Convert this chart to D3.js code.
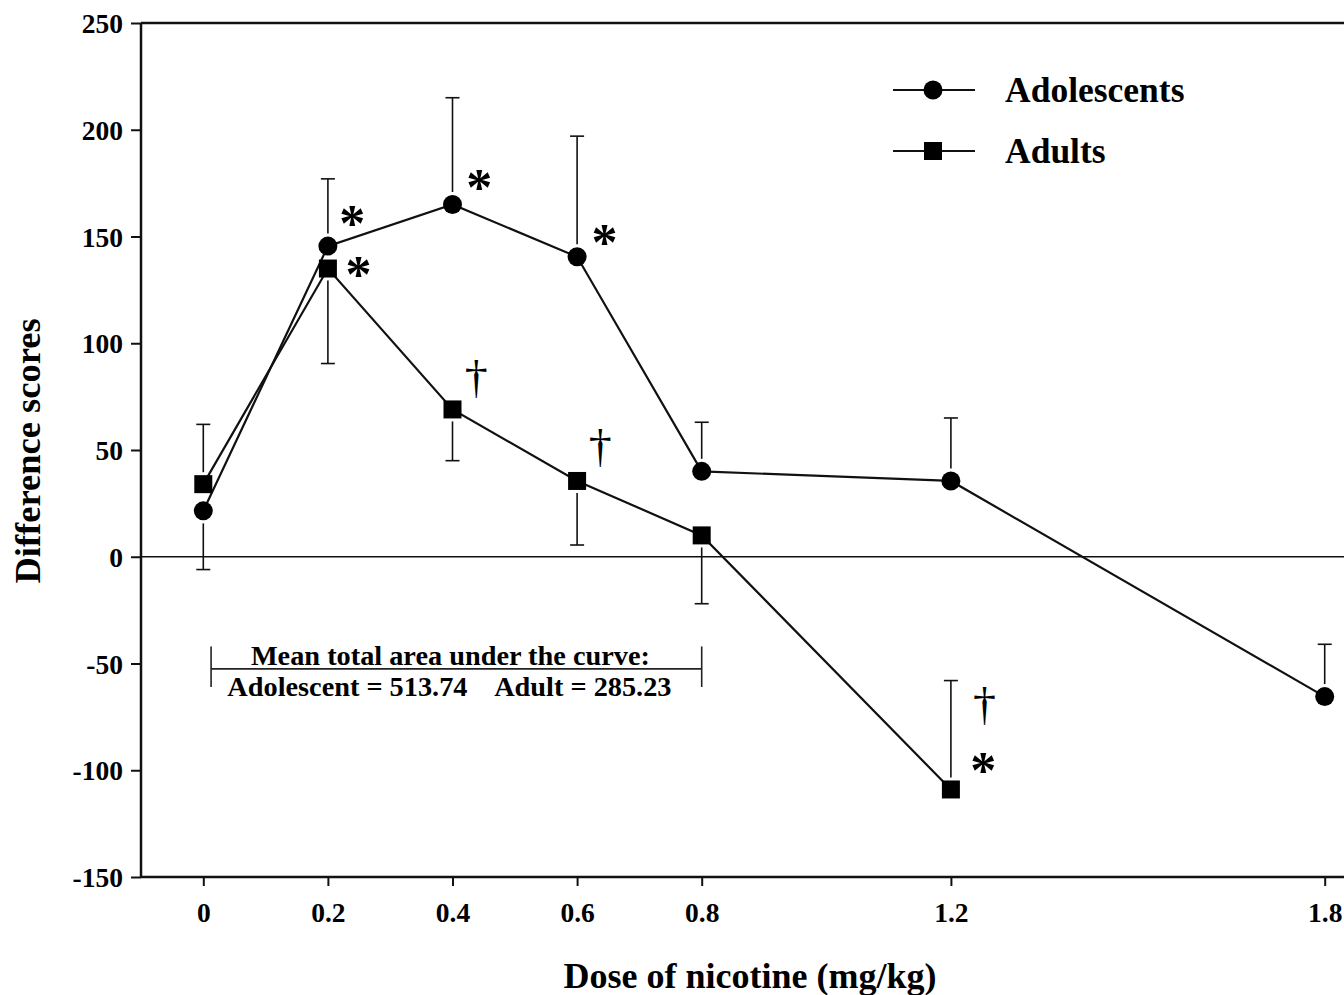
<!DOCTYPE html>
<html>
<head>
<meta charset="utf-8">
<script src="https://cdn.jsdelivr.net/npm/d3@7"></script>
<style>
  html, body { margin: 0; padding: 0; background: #fff; }
  svg text { font-family: "Liberation Serif", "Times New Roman", serif; fill: #000; }
</style>
</head>
<body>
<svg id="chart" width="1344" height="995"></svg>
<script>
// values
const doses = [0, 0.2, 0.4, 0.6, 0.8, 1.2, 1.8];
const adolescentMeans = [21.5, 145.5, 165, 140.5, 40, 35.5, -65.5];
const adolescentBarEnds = [-6, 177, 215, 197, 63, 65, -41];

const adultDoses = [0, 0.2, 0.4, 0.6, 0.8, 1.2];
const adultMeans = [34, 135, 69, 35.5, 10, -109];
const adultBarEnds = [62, 90.5, 45, 5.5, -22, -58];

const xTicks = [0, 0.2, 0.4, 0.6, 0.8, 1.2, 1.8];
const yTicks = [-150, -100, -50, 0, 50, 100, 150, 200, 250];

// significance marks, placed in data units
const marks = [
  {dose: 0.239, value: 160, sym: "*"},
  {dose: 0.249, value: 136, sym: "*"},
  {dose: 0.443, value: 177, sym: "*"},
  {dose: 0.644, value: 151, sym: "*"},
  {dose: 1.252, value: -96, sym: "*"},
  {dose: 0.438, value: 83, sym: "\u2020"},
  {dose: 0.637, value: 51, sym: "\u2020"},
  {dose: 1.254, value: -70, sym: "\u2020"}
];

// area-under-curve bracket
const bracketDoses = [0.0125, 0.8];
const bracketValues = [-42, -52.5, -61];
const aucLabels = ["Mean total area under the curve:", "Adolescent = 513.74    Adult = 285.23"];

const series = ["Adolescents", "Adults"];

const plotLeft = 141, plotTop = 23, plotBottom = 877;
const svg = d3.select("#chart");

const x = d3.scaleLinear().domain([-0.1, 1.9]).range([plotLeft, plotLeft + 2.0 * 623]);
const y = d3.scaleLinear().domain([-150, 250]).range([plotBottom, plotTop]);

svg.append("rect").attr("width", 1344).attr("height", 995).attr("fill", "#fff");

// frame top edge
svg.append("line")
  .attr("x1", plotLeft).attr("x2", 1400)
  .attr("y1", y(250)).attr("y2", y(250))
  .attr("stroke", "#111").attr("stroke-width", 2.5);

// zero line
svg.append("line")
  .attr("x1", plotLeft).attr("x2", 1400)
  .attr("y1", y(0)).attr("y2", y(0))
  .attr("stroke", "#111").attr("stroke-width", 1.6);

// axes
const yAxis = svg.append("g")
  .attr("transform", "translate(" + plotLeft + ",0)")
  .call(d3.axisLeft(y).tickValues(yTicks).tickSize(10).tickPadding(8).tickFormat(d => String(d)));
const xAxis = svg.append("g")
  .attr("transform", "translate(0," + plotBottom + ")")
  .call(d3.axisBottom(x).tickValues(xTicks).tickSize(9).tickPadding(10).tickFormat(d => String(d)));

[yAxis, xAxis].forEach(g => {
  g.select(".domain").attr("stroke", "#111").attr("stroke-width", 2.5);
  g.selectAll(".tick line").attr("stroke", "#111").attr("stroke-width", 2);
  g.selectAll(".tick text")
    .style("font-family", '"Liberation Serif", serif')
    .style("font-size", "27.5px").style("font-weight", "bold").attr("fill", "#000");
});
yAxis.select(".domain").attr("d", "M0," + y(-150) + "V" + y(250));
xAxis.select(".domain").attr("d", "M" + plotLeft + ",0H1400");
xAxis.selectAll(".tick text").attr("dy", "0.95em");
yAxis.selectAll(".tick text").attr("dy", "0.35em");

// axis titles
svg.append("text")
  .attr("x", 750).attr("y", 988)
  .attr("text-anchor", "middle")
  .style("font-size", "36px").style("font-weight", "bold")
  .text("Dose of nicotine (mg/kg)");

svg.append("text")
  .attr("transform", "translate(40,451) rotate(-90)")
  .attr("text-anchor", "middle")
  .style("font-size", "36.5px").style("font-weight", "bold")
  .text("Difference scores");

// build point lists
const adolescentPts = doses.map((d, i) => ({dose: d, value: adolescentMeans[i], end: adolescentBarEnds[i]}));
const adultPts = adultDoses.map((d, i) => ({dose: d, value: adultMeans[i], end: adultBarEnds[i]}));

const circleR = 9.5, squareHalf = 9, gap = 3, capHalf = 7;

function errorBars(pts, half) {
  const g = svg.append("g").attr("stroke", "#111").attr("stroke-width", 1.6);
  pts.forEach(p => {
    const cx = x(p.dose), cy = y(p.value), ey = y(p.end);
    const dir = ey < cy ? -1 : 1;
    g.append("line")
      .attr("x1", cx).attr("x2", cx)
      .attr("y1", cy + dir * (half + gap)).attr("y2", ey);
    g.append("line")
      .attr("x1", cx - capHalf).attr("x2", cx + capHalf)
      .attr("y1", ey).attr("y2", ey);
  });
}
errorBars(adolescentPts, circleR);
errorBars(adultPts, squareHalf);

const line = d3.line().x(d => x(d.dose)).y(d => y(d.value));
[adolescentPts, adultPts].forEach(pts => {
  svg.append("path")
    .datum(pts)
    .attr("d", line)
    .attr("fill", "none")
    .attr("stroke", "#111")
    .attr("stroke-width", 2.2);
});

svg.selectAll(".adol")
  .data(adolescentPts)
  .enter()
  .append("circle")
  .attr("cx", d => x(d.dose)).attr("cy", d => y(d.value))
  .attr("r", circleR)
  .attr("fill", "#000");

svg.selectAll(".adult")
  .data(adultPts)
  .enter()
  .append("rect")
  .attr("x", d => x(d.dose) - squareHalf).attr("y", d => y(d.value) - squareHalf)
  .attr("width", squareHalf * 2).attr("height", squareHalf * 2)
  .attr("fill", "#000");

// significance marks
marks.forEach(m => {
  const star = m.sym === "*";
  svg.append("text")
    .attr("x", x(m.dose)).attr("y", y(m.value))
    .attr("text-anchor", "middle")
    .attr("dy", star ? "0.5em" : "0.3em")
    .style("font-size", star ? "52px" : "46px")
    .style("font-weight", star ? "bold" : "normal")
    .text(m.sym);
});

// AUC bracket
const bx0 = x(bracketDoses[0]), bx1 = x(bracketDoses[1]);
const bracket = svg.append("g").attr("stroke", "#222").attr("stroke-width", 1.6);
bracket.append("line").attr("x1", bx0).attr("x2", bx1).attr("y1", y(bracketValues[1])).attr("y2", y(bracketValues[1]));
[bx0, bx1].forEach(bx => {
  bracket.append("line").attr("x1", bx).attr("x2", bx).attr("y1", y(bracketValues[0])).attr("y2", y(bracketValues[2]));
});
svg.append("text")
  .attr("x", (bx0 + bx1) / 2 - 6).attr("y", y(bracketValues[1]) - 4)
  .attr("text-anchor", "middle")
  .style("font-size", "28.3px").style("font-weight", "bold")
  .text(aucLabels[0]);
svg.append("text")
  .attr("x", (bx0 + bx1) / 2 - 7).attr("y", y(bracketValues[1]) + 27)
  .attr("text-anchor", "middle")
  .style("font-size", "28.3px").style("font-weight", "bold")
  .style("white-space", "pre")
  .text(aucLabels[1]);

// legend
const legend = svg.append("g").attr("transform", "translate(893,90)");
series.forEach((s, i) => {
  const row = legend.append("g").attr("transform", "translate(0," + i * 61 + ")");
  row.append("line").attr("x1", 0).attr("x2", 82).attr("y1", 0).attr("y2", 0)
    .attr("stroke", "#111").attr("stroke-width", 2.2);
  if (i === 0) {
    row.append("circle").attr("cx", 40).attr("cy", 0).attr("r", circleR).attr("fill", "#000");
  } else {
    row.append("rect").attr("x", 40 - squareHalf).attr("y", -squareHalf)
      .attr("width", squareHalf * 2).attr("height", squareHalf * 2).attr("fill", "#000");
  }
  row.append("text").attr("x", 112).attr("y", 12)
    .style("font-size", "35.5px").style("font-weight", "bold")
    .text(s);
});
</script>
</body>
</html>
